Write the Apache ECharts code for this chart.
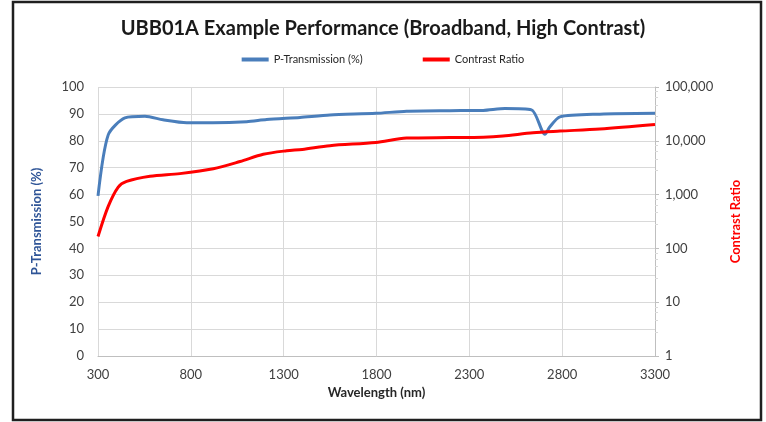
<!DOCTYPE html>
<html><head><meta charset="utf-8">
<script src="https://cdn.jsdelivr.net/npm/echarts@6/dist/echarts.min.js"></script>
<style>html,body{margin:0;padding:0;background:#fff}#c{width:766px;height:422px}</style>
</head><body><div id="c"></div>
<script>
const wavelengthT = [300,355,445,553,650,778,919,1101,1208,1388,1549,1796,1962,2195,2375,2492,2635,2707,2734,2788,3003,3300];
const transmission = [59.5,82.2,88.5,89.1,87.8,86.7,86.7,87.1,87.9,88.7,89.6,90.2,91.0,91.2,91.3,92.0,91.5,82.4,85.2,88.9,89.9,90.2];
const wavelengthC = [300,355,409,454,580,741,921,1065,1190,1316,1400,1549,1796,1962,2195,2375,2481,2643,2788,3003,3300];
const contrast = [166,603,1380,1758,2188,2455,3020,4121,5623,6531,6918,8128,9333,11220,11480,11700,12300,14125,15136,16600,20180];
const xTicks = [300,800,1300,1800,2300,2800,3300];
const leftTicks = [0,10,20,30,40,50,60,70,80,90,100];
const rightTicks = [1,10,100,1000,10000,100000];

const chart = echarts.init(document.getElementById('c'));
const FONT = 'Lato';
chart.setOption({
  animation:false,
  textStyle:{fontFamily:FONT},
  title:{text:'UBB01A Example Performance (Broadband, High Contrast)',left:'center',top:14,
    textStyle:{fontFamily:FONT,fontWeight:'bold',fontSize:20,color:'#1a1a1a'}},
  legend:{top:49,left:'center',itemGap:60,itemWidth:27,itemHeight:4,icon:'rect',
    textStyle:{fontFamily:FONT,fontSize:11,color:'#262626'},
    data:['P-Transmission (%)','Contrast Ratio']},
  grid:{left:98,right:111,top:87,bottom:66,containLabel:false},
  graphic:[{type:'rect',shape:{x:13,y:2,width:748,height:418},style:{fill:null,stroke:'#1f1f1f',lineWidth:2.5},silent:true}],
  xAxis:{type:'value',min:300,max:3300,
    name:'Wavelength (nm)',nameLocation:'middle',nameGap:28,
    nameTextStyle:{fontFamily:FONT,fontWeight:'bold',fontSize:13,color:'#262626'},
    axisLine:{show:true,lineStyle:{color:'#bfbfbf'}},
    axisTick:{show:false,customValues:xTicks},
    axisLabel:{customValues:xTicks,fontSize:13,color:'#404040',margin:12,formatter:v=>String(v)},
    splitLine:{show:true,lineStyle:{color:'#d9d9d9'}}},
  yAxis:[
    {type:'value',min:0,max:100,interval:10,position:'left',
      name:'P-Transmission (%)',nameLocation:'middle',nameGap:55,nameRotate:90,
      nameTextStyle:{fontFamily:FONT,fontWeight:'bold',fontSize:13,color:'#2F5597'},
      axisLine:{show:false},axisTick:{show:false},
      axisLabel:{fontSize:13,color:'#404040',margin:14},
      splitLine:{show:true,lineStyle:{color:'#d9d9d9'}}},
    {type:'log',logBase:10,min:1,max:100000,position:'right',
      name:'Contrast Ratio',nameLocation:'middle',nameGap:74,nameRotate:90,
      nameTextStyle:{fontFamily:FONT,fontWeight:'bold',fontSize:13,color:'#FF0000'},
      axisLine:{show:true,lineStyle:{color:'#bfbfbf'}},
      axisTick:{show:true,inside:false,length:4,lineStyle:{color:'#bfbfbf'}},
      minorTick:{show:true,splitNumber:5,length:3,lineStyle:{color:'#d9d9d9'}},
      axisLabel:{fontSize:13,color:'#404040',margin:10,
        formatter:v=>Number(v).toLocaleString('en-US')},
      splitLine:{show:false}}
  ],
  series:[
    {name:'P-Transmission (%)',type:'line',yAxisIndex:0,showSymbol:false,smooth:0.25,
      lineStyle:{color:'#4A7EBB',width:3},itemStyle:{color:'#4A7EBB'},
      data:wavelengthT.map((w,i)=>[w,transmission[i]])},
    {name:'Contrast Ratio',type:'line',yAxisIndex:1,showSymbol:false,smooth:0.3,
      lineStyle:{color:'#FF0000',width:3},itemStyle:{color:'#FF0000'},
      data:wavelengthC.map((w,i)=>[w,contrast[i]])}
  ]
});
</script></body></html>
